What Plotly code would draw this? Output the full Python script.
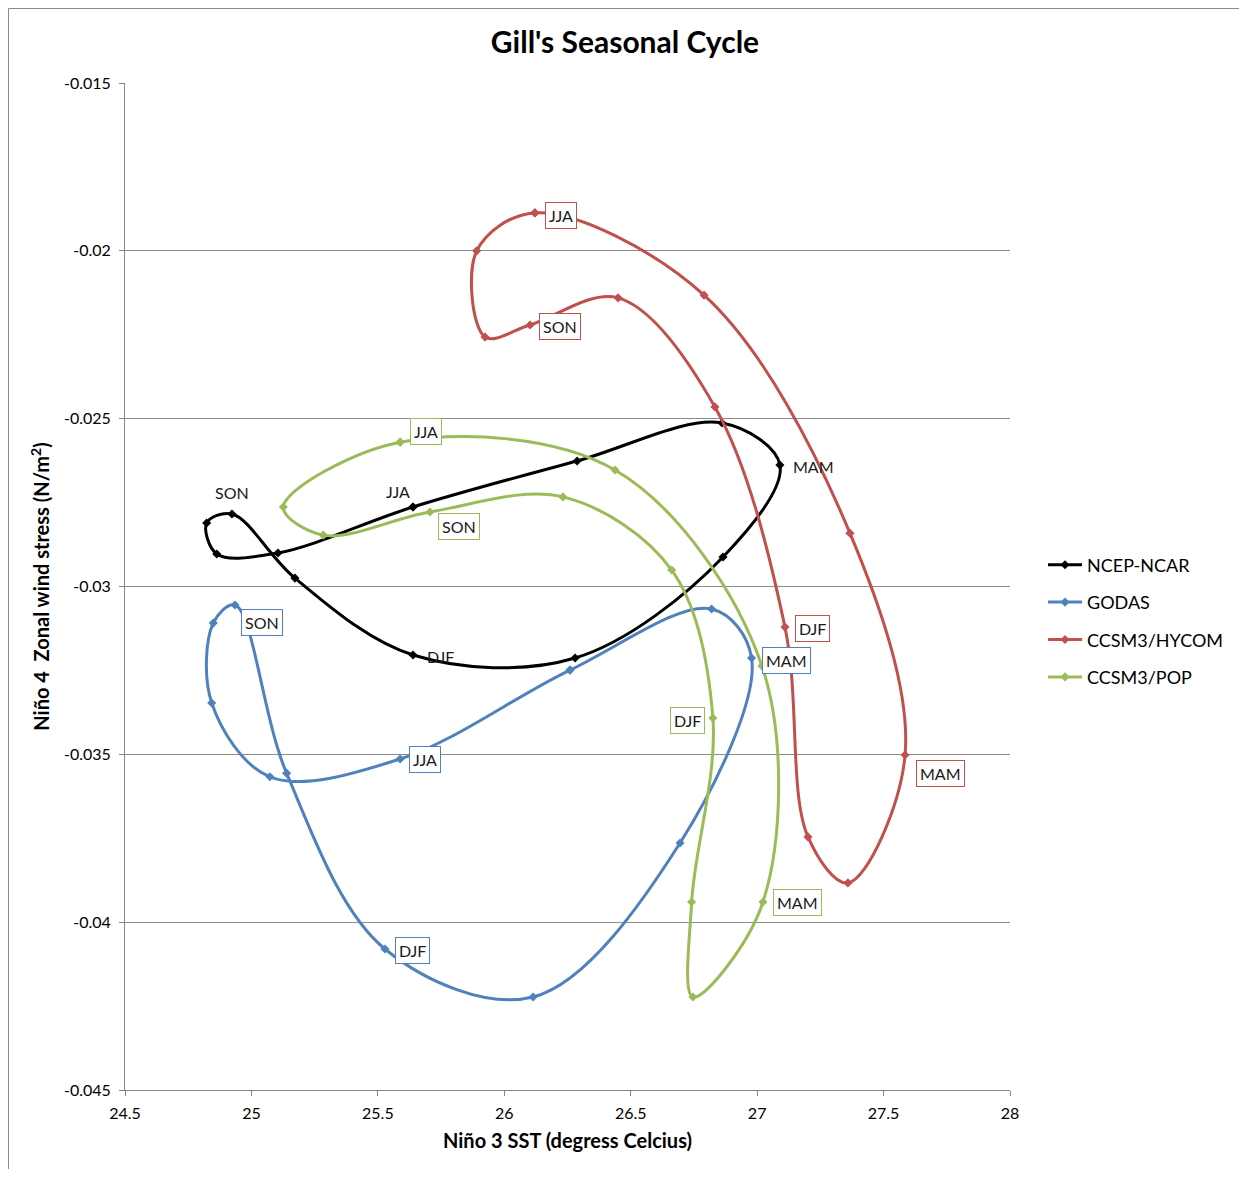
import plotly.graph_objects as go

# ---------------- data ----------------
# Each loop is listed in time order; the first point is repeated at the end to close it.
ncep_sst = [25.639, 25.105, 24.863, 24.823, 24.923, 25.172, 25.639, 26.280, 26.865, 27.090, 26.861, 26.288, 25.639]
ncep_tau = [-0.02763, -0.02900, -0.02903, -0.02811, -0.02784, -0.02975, -0.03204, -0.03213, -0.02912, -0.02638, -0.02513, -0.02626, -0.02763]
ncep_lab = ["JJA", "", "", "", "SON", "", "DJF", "", "", "MAM", "", "", ""]

godas_sst = [26.260, 25.588, 25.073, 24.843, 24.849, 24.935, 25.139, 25.528, 26.114, 26.695, 26.978, 26.820, 26.260]
godas_tau = [-0.03249, -0.03514, -0.03567, -0.03347, -0.03109, -0.03055, -0.03556, -0.04080, -0.04223, -0.03764, -0.03213, -0.03067, -0.03249]
godas_lab = ["", "JJA", "", "", "", "SON", "", "DJF", "", "", "MAM", "", ""]

hycom_sst = [26.121, 25.891, 25.924, 26.102, 26.450, 26.833, 27.110, 27.201, 27.359, 27.585, 27.367, 26.790, 26.121]
hycom_tau = [-0.01887, -0.02000, -0.02257, -0.02221, -0.02140, -0.02465, -0.03121, -0.03746, -0.03883, -0.03502, -0.02841, -0.02132, -0.01887]
hycom_lab = ["JJA", "", "", "SON", "", "", "DJF", "", "", "MAM", "", "", ""]

pop_sst = [25.588, 25.126, 25.284, 25.706, 26.232, 26.662, 26.825, 26.741, 26.746, 27.023, 27.019, 26.438, 25.588]
pop_tau = [-0.02570, -0.02763, -0.02847, -0.02778, -0.02733, -0.02951, -0.03392, -0.03940, -0.04223, -0.03940, -0.03237, -0.02653, -0.02570]
pop_lab = ["JJA", "", "", "SON", "", "", "DJF", "", "", "MAM", "", "", ""]

series_names = ["NCEP-NCAR", "GODAS", "CCSM3/HYCOM", "CCSM3/POP"]

x_tickvals = [24.5, 25, 25.5, 26, 26.5, 27, 27.5, 28]
x_ticktext = ["24.5", "25", "25.5", "26", "26.5", "27", "27.5", "28"]
y_tickvals = [-0.045, -0.04, -0.035, -0.03, -0.025, -0.02, -0.015]
y_ticktext = ["-0.045", "-0.04", "-0.035", "-0.03", "-0.025", "-0.02", "-0.015"]

# ---------------- styling ----------------
FONT = "Lato"
colors = ["#000000", "#4F81BD", "#C0504D", "#9BBB59"]
boxed = [False, True, True, True]
# label pixel offsets (xshift, yshift) per series / season
label_shift = [
    {"SON": (0, 22), "JJA": (-15, 15), "MAM": (34, -2), "DJF": (27, -2)},
    {"SON": (27, -18), "JJA": (25, 0), "MAM": (35, -2), "DJF": (28, -1)},
    {"JJA": (26, -3), "SON": (30, -1), "DJF": (28, -1), "MAM": (35, -18)},
    {"JJA": (26, 11), "SON": (29, -15), "DJF": (-25, -2), "MAM": (35, 0)},
]

all_x = [ncep_sst, godas_sst, hycom_sst, pop_sst]
all_y = [ncep_tau, godas_tau, hycom_tau, pop_tau]
all_lab = [ncep_lab, godas_lab, hycom_lab, pop_lab]

W, H = 1231, 1161
ML, MR, MT, MB = 117, 229, 75, 79

fig = go.Figure()
annotations = []
for i, name in enumerate(series_names):
    fig.add_trace(go.Scatter(
        x=all_x[i], y=all_y[i], name=name, mode="lines+markers",
        legendgroup=name,
        line=dict(color=colors[i], width=3, shape="spline", smoothing=1.0),
        marker=dict(symbol="diamond", size=7, color=colors[i]),
        hoverinfo="skip",
    ))
    for xv, yv, lab in zip(all_x[i], all_y[i], all_lab[i]):
        if not lab:
            continue
        dx, dy = label_shift[i][lab]
        ann = dict(x=xv, y=yv, xref="x", yref="y", text=lab, showarrow=False,
                   xshift=dx, yshift=dy, font=dict(family=FONT, size=16, color="#1a1a1a"))
        if boxed[i]:
            ann.update(bordercolor=colors[i], borderwidth=1, borderpad=3, bgcolor="white")
        annotations.append(ann)

# outer chart border (left and top edges visible)
pw = W - ML - MR
ph = H - MT - MB
shapes = [dict(type="rect", xref="paper", yref="paper",
               x0=(0.5 - ML) / pw, x1=1.6, y0=-0.3, y1=1 + (MT - 0.5) / ph,
               line=dict(color="#8a8a8a", width=1), fillcolor="rgba(0,0,0,0)", layer="below")]

axis_gray = "#868686"
fig.update_layout(
    width=W, height=H,
    margin=dict(l=ML, r=MR, t=MT, b=MB, autoexpand=False),
    paper_bgcolor="white", plot_bgcolor="white",
    font=dict(family=FONT, color="#000000"),
    title=dict(text="<b>Gill's Seasonal Cycle</b>", x=617 / W, xanchor="center",
               y=1 - 34 / H, yanchor="middle", yref="container",
               font=dict(family=FONT, size=30, color="#000000")),
    xaxis=dict(range=[24.5, 28], tickvals=x_tickvals, ticktext=x_ticktext,
               showgrid=False, zeroline=False, showline=True, linecolor=axis_gray, linewidth=1,
               ticks="outside", ticklen=5, tickcolor=axis_gray, tickfont=dict(size=16),
               ticklabelstandoff=4,
               title=dict(text="<b>Niño 3 SST (degress Celcius)</b>", font=dict(size=20), standoff=12)),
    yaxis=dict(range=[-0.045, -0.015], tickvals=y_tickvals, ticktext=y_ticktext,
               showgrid=True, gridcolor="#8c8c8c", gridwidth=1, zeroline=False,
               showline=True, linecolor=axis_gray, linewidth=1,
               ticks="outside", ticklen=5, tickcolor=axis_gray, tickfont=dict(size=16),
               ticklabelstandoff=5,
               title=dict(text="<b>Niño 4  Zonal wind stress (N/m<sup>2</sup>)</b>", font=dict(size=20), standoff=8)),
    legend=dict(x=(1040 - ML - 5) / pw, xanchor="left", y=1 - (613 - MT) / ph, yanchor="middle",
                font=dict(family=FONT, size=18, color="#000000"), tracegroupgap=11,
                bgcolor="rgba(0,0,0,0)", itemwidth=34),
    annotations=annotations,
    shapes=shapes,
    showlegend=True,
)

fig.write_html("out.html")
